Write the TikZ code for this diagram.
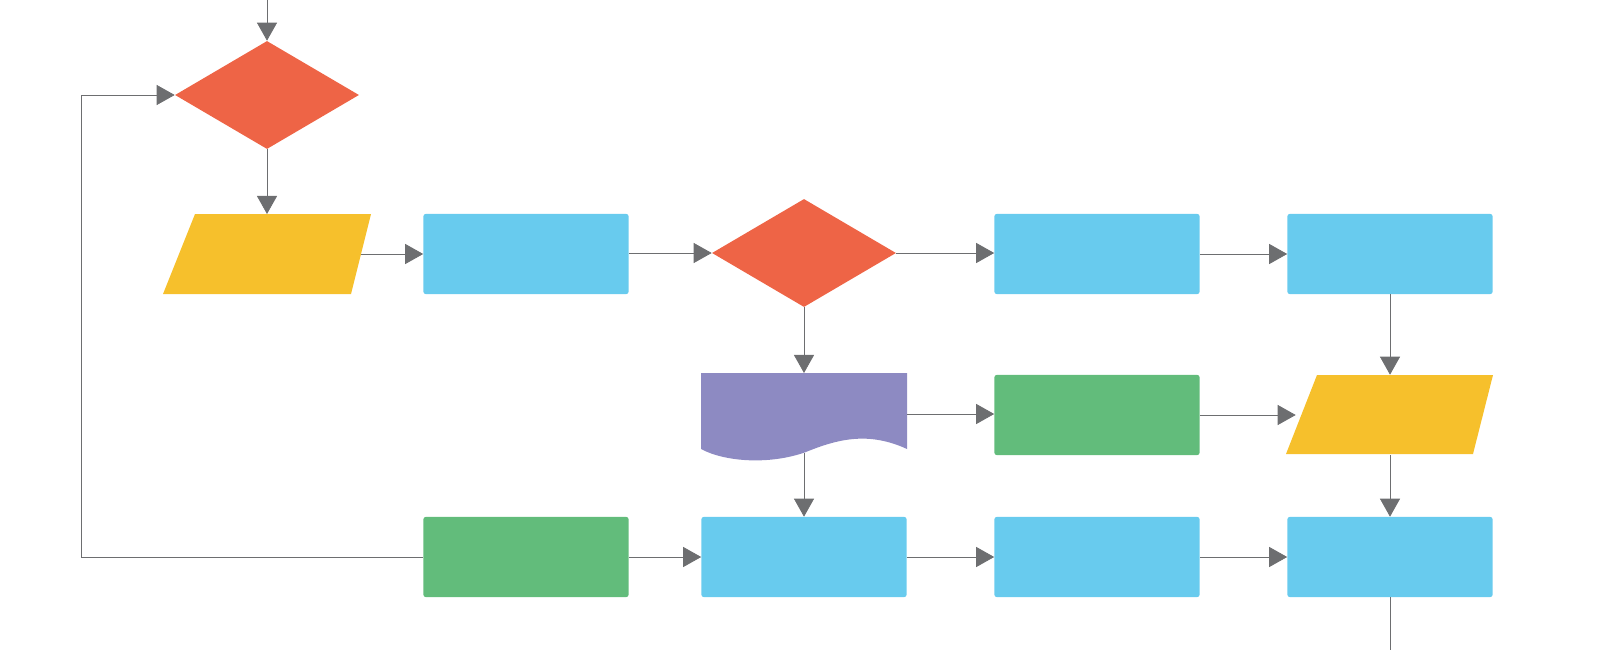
\documentclass[tikz,border=0pt]{standalone}
\usetikzlibrary{shapes.geometric,arrows.meta}
\definecolor{flowred}{HTML}{EE6446}
\definecolor{flowyellow}{HTML}{F6C02C}
\definecolor{flowblue}{HTML}{68CBEE}
\definecolor{flowgreen}{HTML}{62BC7B}
\definecolor{flowpurple}{HTML}{8D8AC2}
\definecolor{flowgray}{HTML}{6D6E70}
\begin{document}
\begin{tikzpicture}[x=0.025cm,y=-0.025cm]
        \tikzset{
        fc box/.style={rectangle,rounded corners=1.5pt,minimum width=5.125cm,minimum height=2cm,inner sep=0},
        fc dec/.style={diamond,fill=flowred,minimum width=4.6cm,minimum height=2.7cm,inner sep=0},
        fc io/.style={rectangle,minimum width=4.7cm,minimum height=2cm,inner sep=0},
        fc flow/.style={draw=flowgray,semithick,-{Triangle[length=0.45cm,width=0.5cm]}}
        }
        \useasboundingbox (0,0) rectangle (1600,650);
        % shapes
        \node[fc dec] (D1) at (267,95) {};
        \fill[flowyellow] (195,214) -- (371,214) -- (351,294) -- (163,294) -- cycle;
        \node[fc io] (P1) at (267,254) {};
        \node[fc box, fill=flowblue] (B1) at (526,254) {};
        \node[fc dec] (D2) at (804,253) {};
        \node[fc box, fill=flowblue] (B2) at (1097,254) {};
        \node[fc box, fill=flowblue] (B3) at (1390,254) {};
        \node[fc box, fill=flowgreen] (G1) at (1097,415) {};
        \fill[flowyellow] (1317,375) -- (1493,375) -- (1473,454) -- (1286,454) -- cycle;
        \node[fc io] (P2) at (1390,415) {};
        \node[fc box, fill=flowgreen] (G2) at (526,557) {};
        \node[fc box, fill=flowblue] (B4) at (804,557) {};
        \node[fc box, fill=flowblue] (B5) at (1097,557) {};
        \node[fc box, fill=flowblue] (B6) at (1390,557) {};
        % document shape
        \fill[flowpurple] (701,373) -- (907,373) -- (907,449)
            .. controls (870,432) and (840,438) .. (806,452)
            .. controls (770,465) and (725,462) .. (701,449) -- cycle;
        \coordinate (Dt) at (804,373);
        \coordinate (Dr) at (907,414);
        \coordinate (Db) at (804,453);
        \coordinate (In) at (267,0);
        \coordinate (Out) at (1390,650);
        \coordinate (L1) at (81,557);
        \coordinate (L2) at (81,95);
        % connectors
        \draw[fc flow] (In) -- (D1.north);
        \draw[fc flow] (D1.south) -- (P1.north |- 0,214);
        \draw[fc flow] (P1.east) -- (B1.west);
        \draw[fc flow] (B1.east |- D2.east) -- (D2.west);
        \draw[fc flow] (D2.east) -- (D2.east -| B2.west);
        \draw[fc flow] (B2.east) -- (B3.west);
        \draw[fc flow] (B3.south) -- (P2.north);
        \draw[fc flow] (D2.south) -- (Dt);
        \draw[fc flow] (Dr) -- (Dr -| G1.west);
        \draw[fc flow] (G1.east) -- (P2.west);
        \draw[fc flow] (Db) -- (B4.north);
        \draw[fc flow] (P2.south) -- (B6.north);
        \draw[fc flow] (G2.east) -- (B4.west);
        \draw[fc flow] (B4.east) -- (B5.west);
        \draw[fc flow] (B5.east) -- (B6.west);
        \draw[draw=flowgray,semithick] (B6.south) -- (Out);
        \draw[fc flow] (G2.west) -- (L1) -- (L2) -- (D1.west);
    \end{tikzpicture}
\end{document}
